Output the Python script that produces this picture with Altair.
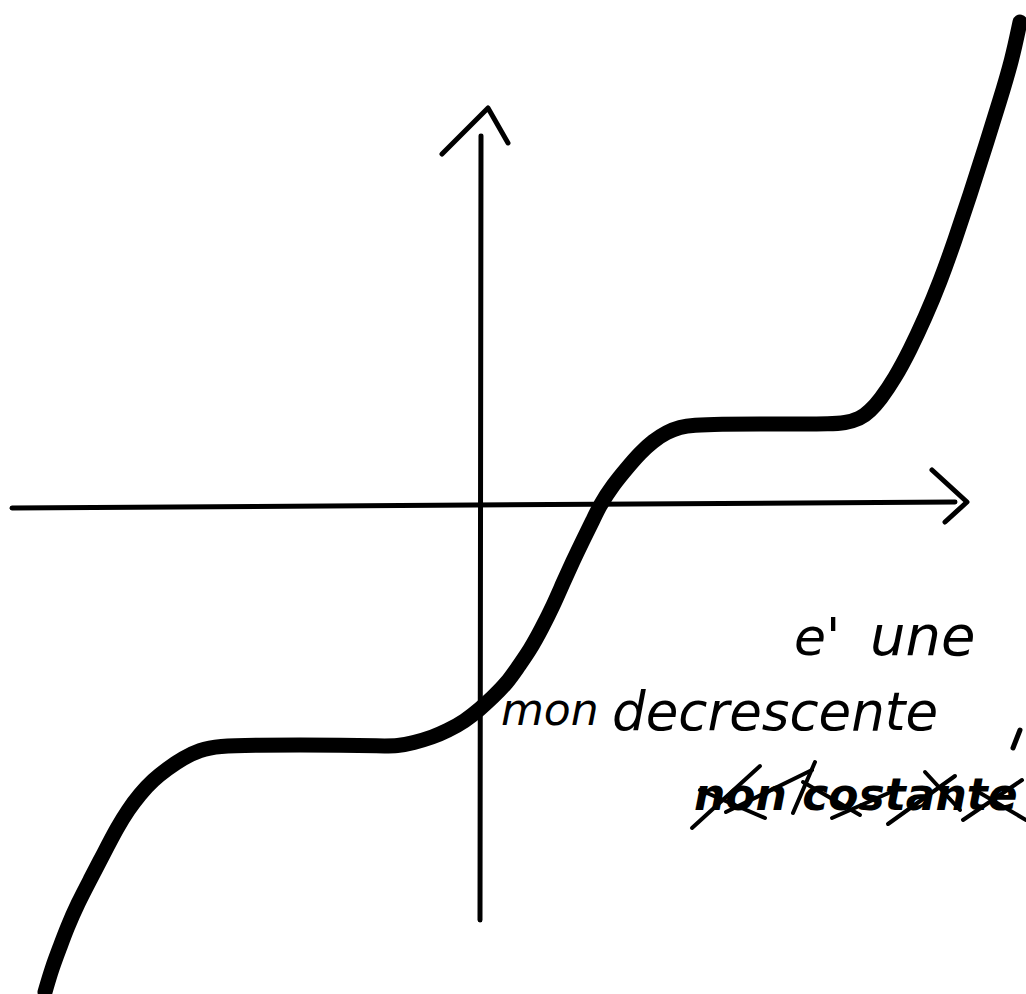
import altair as alt
import pandas as pd

W, H = 1026, 994

# Thick curve of the non-decreasing function (canvas units, y grows downward)
curve_x = [45, 52, 60, 67, 78, 90, 104, 117, 128, 140, 153, 167, 183, 200, 217,
           260, 300, 340, 380, 398, 413, 433, 447, 465, 480, 493, 507, 518, 530,
           542, 553, 563, 573, 583, 593, 600, 613, 627, 640, 653, 667, 680, 693,
           720, 760, 800, 830, 845, 860, 870, 880, 895, 910, 925, 940, 955, 970,
           985, 1000, 1012, 1020]
curve_y = [992, 968, 947, 928, 903, 880, 853, 828, 810, 794, 780, 769, 758, 750, 746,
           745, 745, 745, 746, 746, 743, 737, 731, 721, 709, 697, 683, 667, 650,
           628, 606, 583, 561, 540, 520, 505, 485, 468, 453, 441, 432, 427, 425,
           424, 424, 424, 424, 423, 419, 411, 400, 378, 350, 318, 282, 240, 195,
           148, 100, 60, 22]

# Hand-drawn coordinate axes and their arrow tips, one stroke per id
stroke_id = ["xaxis", "xaxis",
             "xhead", "xhead", "xhead",
             "yaxis", "yaxis",
             "yhead", "yhead", "yhead",
             "accent", "accent"]
stroke_x = [12, 955,
            932, 967, 945,
            480, 481,
            442, 488, 508,
            1013, 1020]
stroke_y = [508, 502,
            470, 502, 522,
            920, 136,
            154, 108, 143,
            748, 730]

# Strokes crossing out the cancelled words
cross_id = ["c1", "c1", "c2", "c2", "c3", "c3", "c4", "c4", "c5", "c5",
            "c6", "c6", "c7", "c7", "c8", "c8", "c9", "c9", "c10", "c10"]
cross_x = [692, 760, 700, 765, 793, 815, 803, 860, 888, 955, 925, 960,
           963, 1022, 975, 1026, 726, 812, 832, 900]
cross_y = [828, 766, 790, 818, 813, 762, 782, 815, 824, 776, 772, 810,
           820, 780, 790, 820, 812, 770, 818, 788]

# Handwritten-style captions
label_text = ["e'", "une", "mon", "decrescente", "non costante"]
label_x = [794, 870, 501, 612, 694]
label_y = [655, 655, 725, 730, 810]
label_size = [52, 56, 44, 53, 44]
label_weight = [400, 400, 400, 400, 700]

curve_df = pd.DataFrame({"x": curve_x, "y": curve_y, "o": range(len(curve_x))})
stroke_df = pd.DataFrame({"id": stroke_id, "x": stroke_x, "y": stroke_y,
                          "o": range(len(stroke_x))})
cross_df = pd.DataFrame({"id": cross_id, "x": cross_x, "y": cross_y,
                         "o": range(len(cross_x))})
label_df = pd.DataFrame({"t": label_text, "x": label_x, "y": label_y,
                         "s": label_size, "w": label_weight})

xs = alt.Scale(domain=[0, W], nice=False, zero=False)
ys = alt.Scale(domain=[0, H], nice=False, zero=False, reverse=True)
X = lambda: alt.X("x:Q", scale=xs, axis=None)
Y = lambda: alt.Y("y:Q", scale=ys, axis=None)

curve = alt.Chart(curve_df).mark_line(
    color="black", strokeWidth=15, strokeCap="round", strokeJoin="round",
    interpolate="basis", clip=True
).encode(x=X(), y=Y(), order="o:Q")

axes = alt.Chart(stroke_df).mark_line(
    color="black", strokeWidth=5, strokeCap="round", strokeJoin="round"
).encode(x=X(), y=Y(), detail="id:N", order="o:Q")

labels_regular = alt.Chart(label_df).transform_filter(
    alt.datum.w < 500
).mark_text(
    align="left", baseline="alphabetic", font="DejaVu Sans", fontStyle="oblique",
    color="black"
).encode(x=X(), y=Y(), text="t:N", size=alt.Size("s:Q", scale=None, legend=None))

labels_struck = alt.Chart(label_df).transform_filter(
    alt.datum.w >= 500
).mark_text(
    align="left", baseline="alphabetic", font="DejaVu Sans", fontStyle="oblique",
    fontWeight="bold", color="black"
).encode(x=X(), y=Y(), text="t:N", size=alt.Size("s:Q", scale=None, legend=None))

crosses = alt.Chart(cross_df).mark_line(
    color="black", strokeWidth=4, strokeCap="round", clip=True
).encode(x=X(), y=Y(), detail="id:N", order="o:Q")

chart = alt.layer(axes, curve, labels_regular, labels_struck, crosses).properties(
    width=W, height=H, padding=0, autosize=alt.AutoSizeParams(type="none"),
    background="white"
).configure_view(stroke=None)

chart.save("out.html", embed_options={"renderer": "svg", "actions": False})
